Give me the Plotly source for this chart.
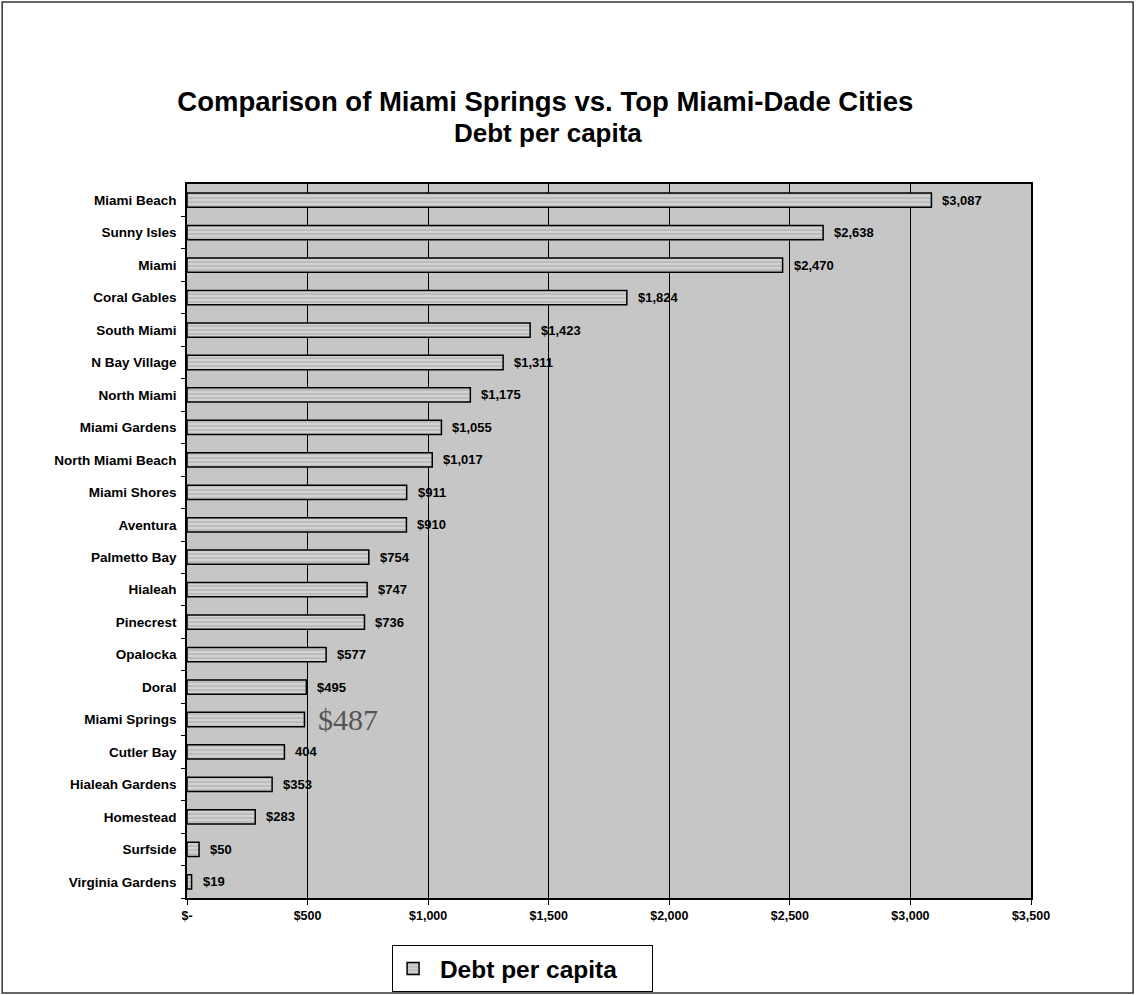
import plotly.graph_objects as go

# Debt per capita by city, listed top to bottom
cities = [
    "Miami Beach", "Sunny Isles", "Miami", "Coral Gables", "South Miami",
    "N Bay Village", "North Miami", "Miami Gardens", "North Miami Beach",
    "Miami Shores", "Aventura", "Palmetto Bay", "Hialeah", "Pinecrest",
    "Opalocka", "Doral", "Miami Springs", "Cutler Bay", "Hialeah Gardens",
    "Homestead", "Surfside", "Virginia Gardens",
]
debt = [3087, 2638, 2470, 1824, 1423, 1311, 1175, 1055, 1017, 911, 910,
        754, 747, 736, 577, 495, 487, 404, 353, 283, 50, 19]
value_labels = ["$3,087", "$2,638", "$2,470", "$1,824", "$1,423", "$1,311",
                "$1,175", "$1,055", "$1,017", "$911", "$910", "$754", "$747",
                "$736", "$577", "$495", "$487", "404", "$353", "$283", "$50",
                "$19"]
tick_vals = [0, 500, 1000, 1500, 2000, 2500, 3000, 3500]
tick_text = ["$-", "$500", "$1,000", "$1,500", "$2,000", "$2,500", "$3,000", "$3,500"]
highlight = "Miami Springs"

FONT = "Arial, Liberation Sans, sans-serif"

fig = go.Figure()
fig.add_trace(go.Bar(
    x=debt,
    y=cities,
    orientation="h",
    name="&nbsp;<b>Debt per capita</b>",
    marker=dict(
        color="#d2d2d2",
        line=dict(color="black", width=1.5),
        pattern=dict(shape="-", fgcolor="#8a8a8a", bgcolor="#d2d2d2", size=4, solidity=0.3),
    ),
    width=0.44,
    showlegend=True,
))

# value labels placed just past the end of each bar
annotations = []
for c, v, lab in zip(cities, debt, value_labels):
    if c == highlight:
        font = dict(family="Liberation Serif, Times New Roman, serif", size=30, color="#555555")
        text, shift = lab, 12
    else:
        font = dict(family=FONT, size=13, color="black")
        text, shift = "<b>%s</b>" % lab, 9
    annotations.append(dict(
        x=v, y=c, xref="x", yref="y", text=text,
        showarrow=False, xanchor="left", yanchor="middle", xshift=shift, font=font,
    ))

# second title line, set tight under the first
annotations.append(dict(
    x=0.428, y=(898 - 133) / 714, xref="paper", yref="paper", text="<b>Debt per capita</b>",
    showarrow=False, xanchor="center", yanchor="middle",
    font=dict(family=FONT, size=26, color="black"),
))

fig.update_layout(
    width=1136, height=995,
    margin=dict(l=187, r=105, t=184, b=97, autoexpand=False),
    paper_bgcolor="white",
    plot_bgcolor="#c6c6c6",
    font=dict(family=FONT, color="black"),
    title=dict(
        text="<b>Comparison of Miami Springs vs. Top Miami-Dade Cities</b>",
        x=0.48, xanchor="center", y=1 - 101 / 995, yanchor="middle",
        font=dict(family=FONT, size=27.5, color="black"),
    ),
    xaxis=dict(
        range=[0, 3500], tickvals=tick_vals, ticktext=["<b>%s</b>" % t for t in tick_text],
        tickfont=dict(family=FONT, size=12.5), ticks="outside", ticklen=5,
        tickcolor="black", showgrid=True, gridcolor="black", gridwidth=1,
        showline=True, linecolor="black", linewidth=1.5, mirror=True, zeroline=False,
    ),
    yaxis=dict(
        categoryorder="array", categoryarray=cities[::-1],
        tickvals=cities, ticktext=["<b>%s</b>" % c for c in cities],
        tickfont=dict(family=FONT, size=13.5), ticks="outside", ticklen=4,
        tickson="boundaries", tickcolor="black", showgrid=False,
        showline=True, linecolor="black", linewidth=1.5, mirror=True,
        ticklabelstandoff=6,
    ),
    legend=dict(
        orientation="h", x=0.243, xanchor="left", y=(898 - 945) / 714, yanchor="top",
        bordercolor="black", borderwidth=1, bgcolor="white",
        font=dict(family=FONT, size=24.5, color="black"),
        entrywidth=214,
    ),
    annotations=annotations,
    shapes=[dict(
        type="rect", xref="paper", yref="paper",
        x0=-0.219, x1=1.121, y0=-0.133, y1=1.255,
        line=dict(color="#333333", width=1.5), layer="below",
    )],
)

fig.write_html("out.html")
